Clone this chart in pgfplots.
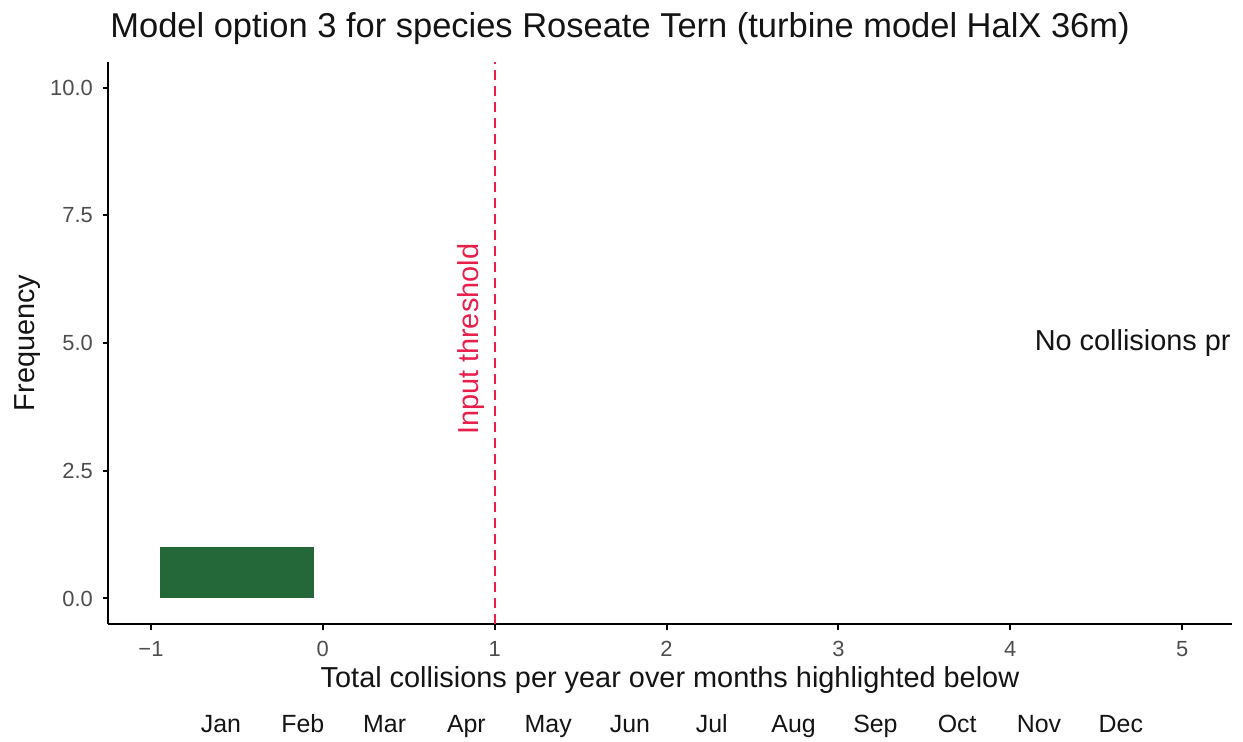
\documentclass[border=0pt]{standalone}
\usepackage{fontspec}
\setmainfont{Liberation Sans}
\usepackage{pgfplots}
\pgfplotsset{compat=1.18}
\definecolor{barg}{RGB}{36,104,58}
\definecolor{thr}{RGB}{232,30,75}
\definecolor{tickgray}{RGB}{77,77,77}
\definecolor{txt}{RGB}{20,20,20}
\begin{document}
\begin{tikzpicture}[x=1bp,y=1bp]
\useasboundingbox (0,0) rectangle (621.5,370.5);
\begin{axis}[
  at={(54bp,58.5bp)}, anchor=south west,
  scale only axis, width=562bp, height=281bp,
  xmin=-1.25, xmax=5.29, ymin=-0.5, ymax=10.5,
  axis x line*=bottom, axis y line*=left,
  axis line style={line width=1.1bp, -},
  xtick={-1,0,...,5}, xticklabels={−1,0,1,2,3,4,5},
  ytick={0,2.5,5,7.5,10}, yticklabels={0.0,2.5,5.0,7.5,10.0},
  tick align=outside, major tick length=2.75bp,
  tick style={black, line width=1bp},
  ticklabel style={font=\fontsize{11}{13}\selectfont, text=tickgray},
  xticklabel style={yshift=-2.5bp},
  yticklabel style={xshift=-1.3bp},
  clip=false,
]
\addplot[ybar, bar width=0.9, bar shift=0pt, fill=barg, draw=none] coordinates {(-0.5,1)};
\addplot[thr, line width=1bp, dash pattern=on 5bp off 3bp] coordinates {(1,-0.5) (1,10.5)};
\node[rotate=90, text=thr, font=\fontsize{14.5}{17}\selectfont] at (axis cs:0.86,5.07) {Input threshold};
\node[anchor=west, inner sep=0pt, text=txt, font=\fontsize{14.5}{17}\selectfont] at (axis cs:4.14,5) {No collisions pr};
\end{axis}
\node[anchor=base west, inner sep=0pt, text=txt, font=\fontsize{17.3}{20}\selectfont] at (55,352) {Model option 3 for species Roseate Tern (turbine model HalX 36m)};
\node[anchor=base, inner sep=0pt, text=txt, font=\fontsize{14.5}{17}\selectfont] at (335,27) {Total collisions per year over months highlighted below};
\node[rotate=90, text=txt, font=\fontsize{14.5}{17}\selectfont] at (14,199) {Frequency};
\foreach \m [count=\i from 0] in {Jan,Feb,Mar,Apr,May,Jun,Jul,Aug,Sep,Oct,Nov,Dec}
  \node[anchor=base, inner sep=0pt, text=txt, font=\fontsize{12.5}{15}\selectfont] at (110.5+40.9*\i,4.5) {\m};
\end{tikzpicture}
\end{document}
